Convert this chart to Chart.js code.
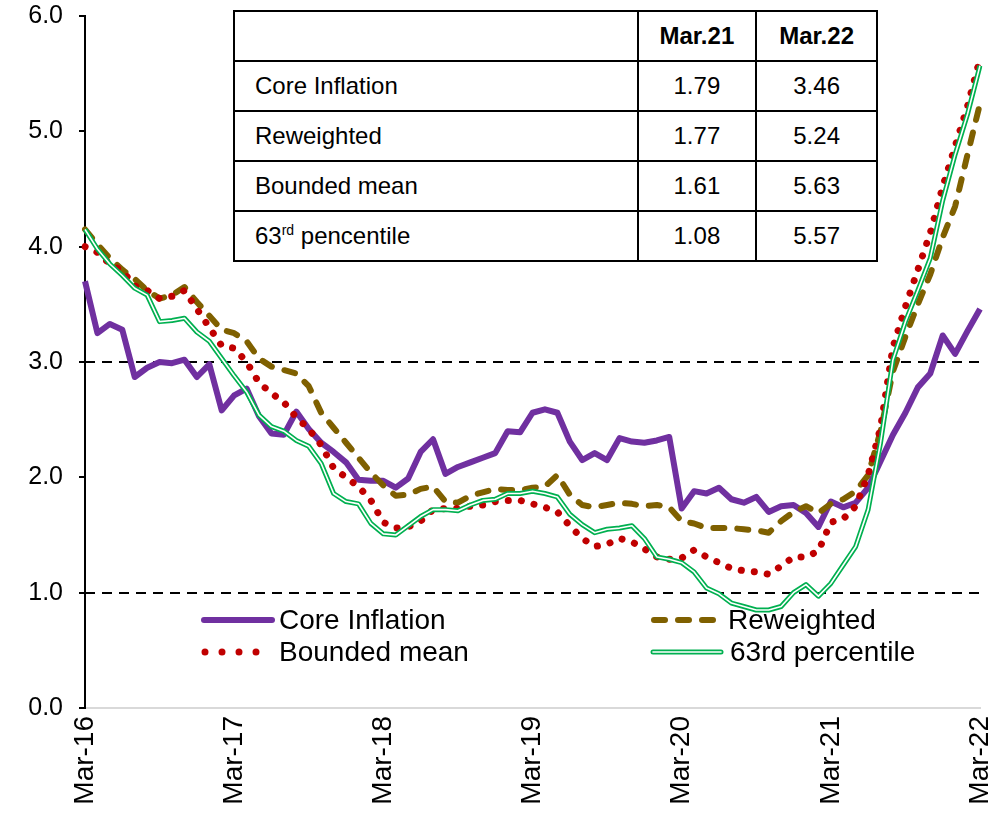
<!DOCTYPE html>
<html>
<head>
<meta charset="utf-8">
<script src="https://cdn.jsdelivr.net/npm/chart.js@4.4.1/dist/chart.umd.min.js"></script>
<style>
    body { margin: 0; background: #fff; font-family: Arial, "Liberation Sans", sans-serif; }
    #wrap { position: relative; width: 989px; height: 818px; }
    #summary {
        position: absolute; left: 233px; top: 10px; width: 645px; height: 248px;
        border-collapse: collapse; background: #fff; font-size: 24px; color: #000;
    }
    #summary td, #summary th { border: 2px solid #000; padding: 0; height: 48px; }
    #summary th { font-weight: bold; text-align: center; }
    #summary td.name { text-align: left; padding-left: 20px; }
    #summary td.num { text-align: center; }
    #summary sup { font-size: 14px; vertical-align: 9px; line-height: 0; }
    .leg { position: absolute; height: 30px; display: flex; align-items: center; font-size: 28px; color: #000; white-space: nowrap; }
    .leg svg { display: block; }
    .leg span { margin-left: 4px; }
</style>
</head>
<body>
<div id="wrap">
    <canvas id="inflationChart"></canvas>

    <table id="summary">
        <colgroup><col style="width:405px"><col style="width:119px"><col style="width:121px"></colgroup>
        <tr><th></th><th>Mar.21</th><th>Mar.22</th></tr>
        <tr><td class="name">Core Inflation</td><td class="num">1.79</td><td class="num">3.46</td></tr>
        <tr><td class="name">Reweighted</td><td class="num">1.77</td><td class="num">5.24</td></tr>
        <tr><td class="name">Bounded mean</td><td class="num">1.61</td><td class="num">5.63</td></tr>
        <tr><td class="name">63<sup>rd</sup> pencentile</td><td class="num">1.08</td><td class="num">5.57</td></tr>
    </table>

    <div class="leg" style="left:199px; top:605px;">
        <svg width="76" height="28"><line x1="5" y1="14" x2="73" y2="14" stroke="#7030A0" stroke-width="6" stroke-linecap="round"/></svg>
        <span>Core Inflation</span>
    </div>
    <div class="leg" style="left:199px; top:637px;">
        <svg width="76" height="28"><line x1="6" y1="14" x2="74" y2="14" stroke="#C00000" stroke-width="7" stroke-linecap="round" stroke-dasharray="0 17"/></svg>
        <span>Bounded mean</span>
    </div>
    <div class="leg" style="left:648px; top:605px;">
        <svg width="76" height="28"><line x1="6" y1="14" x2="70" y2="14" stroke="#7F6000" stroke-width="6" stroke-linecap="round" stroke-dasharray="11 13"/></svg>
        <span>Reweighted</span>
    </div>
    <div class="leg" style="left:648px; top:637px;">
        <svg width="78" height="28">
            <line x1="5" y1="14" x2="73" y2="14" stroke="#00B050" stroke-width="5" stroke-linecap="round"/>
            <line x1="5" y1="14" x2="73" y2="14" stroke="#fff" stroke-width="1.6" stroke-linecap="round"/>
        </svg>
        <span>63rd percentile</span>
    </div>
</div>

<script>
// Monthly, Mar-16 .. Mar-22
const monthNames = ['Jan', 'Feb', 'Mar', 'Apr', 'May', 'Jun', 'Jul', 'Aug', 'Sep', 'Oct', 'Nov', 'Dec'];
const months = [];
for (let k = 0; k < 73; k++) {
    const m = (2 + k) % 12;
    const yr = 16 + Math.floor((2 + k) / 12);
    months.push(monthNames[m] + '-' + yr);
}

const coreInflation = [3.70, 3.25, 3.33, 3.28, 2.87, 2.95, 3.00, 2.99, 3.02, 2.87,
    2.98, 2.58, 2.71, 2.77, 2.53, 2.38, 2.37, 2.57, 2.42, 2.30,
    2.22, 2.13, 1.98, 1.97, 1.97, 1.91, 1.99, 2.22, 2.33, 2.03,
    2.09, 2.13, 2.17, 2.21, 2.40, 2.39, 2.56, 2.59, 2.56, 2.31,
    2.15, 2.21, 2.15, 2.34, 2.31, 2.30, 2.32, 2.35, 1.73, 1.88,
    1.86, 1.91, 1.81, 1.78, 1.83, 1.70, 1.75, 1.76, 1.69, 1.57,
    1.79, 1.74, 1.78, 1.91, 2.14, 2.37, 2.56, 2.78, 2.90, 3.23,
    3.07, 3.27, 3.46];

const reweighted = [4.15, 4.02, 3.90, 3.80, 3.72, 3.62, 3.55, 3.58, 3.65, 3.52,
    3.40, 3.28, 3.25, 3.18, 3.03, 2.96, 2.93, 2.90, 2.79, 2.56,
    2.43, 2.30, 2.17, 2.04, 1.93, 1.84, 1.85, 1.90, 1.92, 1.79,
    1.78, 1.84, 1.87, 1.90, 1.89, 1.89, 1.91, 1.92, 2.02, 1.85,
    1.76, 1.74, 1.76, 1.78, 1.77, 1.75, 1.76, 1.74, 1.62, 1.60,
    1.56, 1.56, 1.56, 1.55, 1.54, 1.52, 1.62, 1.70, 1.75, 1.69,
    1.77, 1.81, 1.88, 2.02, 2.40, 2.92, 3.22, 3.50, 3.76, 4.08,
    4.35, 4.80, 5.24];

const boundedMean = [4.00, 3.95, 3.85, 3.79, 3.66, 3.62, 3.55, 3.57, 3.62, 3.46,
    3.30, 3.14, 3.12, 3.00, 2.82, 2.73, 2.65, 2.52, 2.42, 2.28,
    2.08, 2.00, 1.92, 1.80, 1.61, 1.56, 1.57, 1.62, 1.72, 1.73,
    1.73, 1.75, 1.76, 1.79, 1.80, 1.80, 1.77, 1.74, 1.70, 1.58,
    1.47, 1.40, 1.42, 1.47, 1.44, 1.38, 1.31, 1.29, 1.30, 1.37,
    1.31, 1.26, 1.21, 1.19, 1.18, 1.16, 1.23, 1.31, 1.31, 1.36,
    1.61, 1.64, 1.75, 2.02, 2.43, 3.13, 3.48, 3.80, 4.12, 4.52,
    4.87, 5.22, 5.63];

const pct63 = [4.15, 3.98, 3.85, 3.75, 3.64, 3.58, 3.35, 3.36, 3.38, 3.26,
    3.18, 3.03, 2.88, 2.74, 2.54, 2.44, 2.40, 2.32, 2.27, 2.12,
    1.86, 1.79, 1.77, 1.60, 1.51, 1.50, 1.58, 1.66, 1.72, 1.72,
    1.71, 1.76, 1.80, 1.81, 1.86, 1.86, 1.88, 1.86, 1.83, 1.68,
    1.59, 1.52, 1.55, 1.56, 1.58, 1.47, 1.31, 1.29, 1.26, 1.18,
    1.04, 0.99, 0.91, 0.88, 0.85, 0.85, 0.88, 1.00, 1.07, 0.97,
    1.08, 1.24, 1.40, 1.72, 2.30, 3.02, 3.35, 3.62, 3.90, 4.40,
    4.80, 5.15, 5.57];

const yTicks = [0, 1, 2, 3, 4, 5, 6];
const refLines = [1, 3];

// dashed horizontal reference lines at 1% and 3%
const refLinePlugin = {
    id: 'refLines',
    beforeDatasetsDraw(chart) {
        const { ctx, chartArea, scales: { y } } = chart;
        ctx.save();
        ctx.strokeStyle = '#000';
        ctx.lineWidth = 2;
        ctx.setLineDash([10, 7]);
        refLines.forEach(v => {
            const py = Math.round(y.getPixelForValue(v));
            ctx.beginPath();
            ctx.moveTo(chartArea.left, py);
            ctx.lineTo(chartArea.right + 5, py);
            ctx.stroke();
        });
        ctx.restore();
    }
};

Chart.defaults.font.family = 'Arial, "Liberation Sans", sans-serif';
Chart.defaults.color = '#000';

const ctx = document.getElementById('inflationChart').getContext('2d');
const inflationChart = new Chart(ctx, {
    type: 'line',
    data: {
        labels: months,
        datasets: [
            {
                label: 'Core Inflation',
                data: coreInflation,
                borderColor: '#7030A0',
                borderWidth: 6,
                order: 5
            },
            {
                label: 'Reweighted',
                data: reweighted,
                borderColor: '#7F6000',
                borderWidth: 6,
                borderDash: [11, 13],
                borderCapStyle: 'round',
                order: 4
            },
            {
                label: 'Bounded mean',
                data: boundedMean,
                borderColor: '#C00000',
                borderWidth: 7,
                borderDash: [0.1, 13],
                borderCapStyle: 'round',
                order: 3
            },
            {
                label: '63rd percentile',
                data: pct63,
                borderColor: '#00B050',
                borderWidth: 5,
                order: 2
            },
            {
                // white core that turns the green line into a double line
                label: '63rd percentile inner',
                data: pct63,
                borderColor: '#ffffff',
                borderWidth: 1.6,
                order: 1
            }
        ]
    },
    options: {
        responsive: true,
        maintainAspectRatio: false,
        animation: false,
        devicePixelRatio: 1,
        layout: { padding: { top: 16, right: 9, left: 0, bottom: 0 } },
        elements: {
            point: { radius: 0 },
            line: { tension: 0, borderJoinStyle: 'round', fill: false }
        },
        plugins: {
            legend: { display: false },
            tooltip: { enabled: false }
        },
        scales: {
            x: {
                offset: false,
                grid: { display: false, drawTicks: false },
                border: { display: true, color: '#d9d9d9', width: 2 },
                ticks: {
                    autoSkip: false,
                    maxRotation: 90,
                    minRotation: 90,
                    padding: 8,
                    font: { size: 28 },
                    callback: function(value, index) {
                        return index % 12 === 0 ? this.getLabelForValue(value) : '';
                    }
                },
                afterFit: function(scale) {
                    scale.height = 110;
                    scale.paddingLeft = 0;
                    scale.paddingRight = 0;
                }
            },
            y: {
                min: 0,
                max: 6,
                afterBuildTicks: function(scale) {
                    scale.ticks = yTicks.map(v => ({ value: v }));
                },
                grid: { drawOnChartArea: false, drawTicks: true, tickLength: 6, color: '#000', lineWidth: 2 },
                border: { display: true, color: '#000', width: 2 },
                ticks: {
                    padding: 16,
                    font: { size: 25 },
                    callback: v => v.toFixed(1)
                },
                afterFit: function(scale) {
                    scale.width = 85;
                    scale.paddingTop = 0;
                    scale.paddingBottom = 0;
                }
            }
        }
    },
    plugins: [refLinePlugin]
});
</script>
</body>
</html>
